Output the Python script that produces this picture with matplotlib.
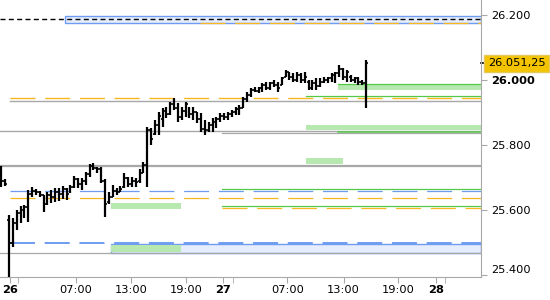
import numpy as np
import matplotlib
matplotlib.use("Agg")
import matplotlib.pyplot as plt
from matplotlib.patches import Rectangle
from matplotlib.transforms import blended_transform_factory

plt.rcParams['lines.scale_dashes'] = False
plt.rcParams['font.family'] = 'DejaVu Sans'

# OHLC bars (index positions, prices in points)
highs = [25735, 25695, 25585, 25576, 25600, 25612, 25615, 25662, 25671, 25665,
         25659, 25646, 25655, 25662, 25668, 25668, 25674, 25668, 25677, 25705,
         25699, 25699, 25717, 25742, 25745, 25732, 25732, 25695, 25655, 25677,
         25668, 25674, 25714, 25702, 25702, 25699, 25726, 25748, 25855, 25852,
         25877, 25902, 25914, 25917, 25932, 25945, 25929, 25917, 25932, 25917,
         25917, 25902, 25899, 25877, 25871, 25883, 25886, 25899, 25899, 25902,
         25908, 25917, 25923, 25948, 25963, 25975, 25978, 25978, 25991, 25994,
         25994, 26000, 25994, 26009, 26031, 26025, 26022, 26025, 26022, 26025,
         26000, 26000, 26006, 26006, 26009, 26009, 26022, 26025, 26046, 26037,
         26031, 26015, 26009, 26009, 26000, 26062]
lows = [25671, 25674, 25394, 25486, 25538, 25560, 25575, 25563, 25640, 25646,
        25640, 25594, 25615, 25622, 25625, 25628, 25634, 25631, 25652, 25668,
        25668, 25662, 25677, 25702, 25723, 25714, 25683, 25579, 25619, 25640,
        25646, 25655, 25668, 25671, 25671, 25671, 25683, 25714, 25671, 25800,
        25831, 25831, 25855, 25883, 25892, 25908, 25871, 25877, 25886, 25883,
        25877, 25868, 25840, 25831, 25840, 25840, 25852, 25871, 25877, 25877,
        25886, 25892, 25892, 25914, 25932, 25948, 25963, 25960, 25963, 25969,
        25969, 25978, 25963, 25985, 26009, 26000, 25994, 25994, 25991, 25991,
        25969, 25969, 25969, 25978, 25991, 25991, 25994, 25991, 26009, 26000,
        25994, 25994, 25991, 25985, 25985, 25914]
opens = [25720, 25690, 25570, 25500, 25560, 25590, 25600, 25610, 25650, 25660,
         25655, 25645, 25620, 25645, 25640, 25655, 25650, 25665, 25655, 25670,
         25695, 25680, 25690, 25710, 25735, 25730, 25725, 25690, 25625, 25640,
         25660, 25655, 25670, 25700, 25680, 25690, 25690, 25715, 25740, 25845,
         25835, 25860, 25880, 25905, 25895, 25925, 25915, 25885, 25905, 25915,
         25895, 25900, 25880, 25850, 25845, 25860, 25870, 25880, 25890, 25885,
         25895, 25900, 25910, 25915, 25940, 25955, 25970, 25965, 25975, 25985,
         25975, 25990, 25985, 25985, 26010, 26025, 26010, 26000, 26015, 26000,
         25995, 25975, 25990, 25980, 25995, 26000, 26005, 26015, 26020, 26035,
         26010, 26010, 26000, 26005, 25995, 25990]
closes = [25690, 25680, 25500, 25560, 25590, 25600, 25610, 25650, 25660, 25655,
          25645, 25610, 25645, 25640, 25655, 25650, 25665, 25650, 25670, 25695,
          25680, 25690, 25710, 25735, 25730, 25725, 25690, 25620, 25640, 25660,
          25655, 25665, 25700, 25680, 25690, 25685, 25715, 25740, 25845, 25820,
          25860, 25890, 25905, 25895, 25925, 25915, 25885, 25905, 25925, 25895,
          25900, 25880, 25850, 25845, 25860, 25870, 25880, 25890, 25885, 25895,
          25900, 25910, 25915, 25940, 25955, 25970, 25965, 25975, 25985, 25975,
          25990, 25985, 25975, 26005, 26025, 26010, 26000, 26015, 26000, 26010,
          25975, 25990, 25980, 25995, 26000, 26005, 26015, 26020, 26035, 26010,
          26025, 26000, 26005, 25995, 25990, 26051.25]
last_price = 26051.25

# x axis ticks (bar index units)
major_pos = [2.27, 19.4, 33.7, 48.1, 57.6, 74.5, 89.1, 103.4, 113.2]
major_lab = ['26', '07:00', '13:00', '19:00', '27', '07:00', '13:00', '19:00', '28']
minor_pos = [4.43, 60.2, 115.6]
y_ticks = [25400, 25600, 25800, 26000, 26200]

x_left, x_right = -0.34, 124.9
y_bottom, y_top = 25394, 26246

# zones: (start, end, low, high, face, edge)
zones = [
    (16.6, x_right, 26175, 26198, '#e6edfc', '#6f9cf0'),
    (28.6, x_right, 25469, 25495, '#e6edfc', '#6f9cf0'),
    (28.6, 46.8, 25472, 25492, '#b6e8b0', 'none'),
    (28.6, 46.8, 25603, 25622, '#b6e8b0', 'none'),
    (79.3, x_right, 25846, 25862, '#b6e8b0', 'none'),
    (87.7, x_right, 25969, 25988, '#b6e8b0', 'none'),
    (79.3, 89.0, 25742, 25760, '#b6e8b0', 'none'),
]
# lines: (start, price, color, dashes, width)
levels = [
    (x_left, 26188, 'black', (3.6, 2.4), 1.0),
    (51.7, 26175, '#f8b620', (18, 7), 0.9),
    (2.27, 25945, '#f8b620', (18, 7), 1.0),
    (2.27, 25935, '#a8a8a8', None, 1.0),
    (x_left, 25842, '#a8a8a8', None, 1.0),
    (57.5, 25837, '#a8a8a8', None, 0.9),
    (87.7, 25839, '#55c948', None, 1.1),
    (87.7, 25988, '#55c948', None, 0.9),
    (79.3, 25951, '#55c948', None, 0.9),
    (x_left, 25739, '#a8a8a8', None, 0.9),
    (x_left, 25734, '#a8a8a8', None, 0.9),
    (57.5, 25664, '#55c948', None, 0.9),
    (2.27, 25658, '#6f9cf0', (18, 7), 0.9),
    (2.27, 25636, '#f8b620', (18, 7), 0.9),
    (57.5, 25611, '#55c948', None, 0.9),
    (57.5, 25605, '#f8b620', (18, 7), 0.9),
    (2.27, 25498, '#6f9cf0', (18, 7), 1.4),
    (x_left, 25467, '#a8a8a8', None, 0.9),
]

fig = plt.figure(figsize=(5.5, 3), dpi=100)
ax = fig.add_axes([0, 1 - 277 / 300, 481 / 550, 277 / 300])

for x0, x1, lo, hi, fc, ec in zones:
    ax.add_patch(Rectangle((x0, lo), x1 - x0, hi - lo, facecolor=fc,
                           edgecolor=ec, lw=1.0, zorder=1))

for x0, p, c, d, w in levels:
    if d is None:
        ax.plot([x0, x_right], [p, p], color=c, lw=w, zorder=2)
    else:
        ax.plot([x0, x_right], [p, p], color=c, lw=w, dashes=d, zorder=2)

idx = np.arange(len(highs))
ax.vlines(idx, lows, highs, color='black', lw=1.6, zorder=3)
ax.hlines(opens, idx - 0.5, idx, color='black', lw=1.2, zorder=3)
ax.hlines(closes, idx, idx + 0.5, color='black', lw=1.2, zorder=3)

ax.set_xlim(x_left, x_right)
ax.set_ylim(y_bottom, y_top)

for s in ['top', 'left']:
    ax.spines[s].set_visible(False)
for s in ['right', 'bottom']:
    ax.spines[s].set_color('#a8a8a8')

ax.yaxis.tick_right()
ax.set_yticks(y_ticks)
ax.set_yticklabels(['{:,}'.format(v).replace(',', '.') for v in y_ticks])
ax.set_xticks(major_pos)
ax.set_xticklabels(major_lab)
ax.set_xticks(minor_pos, minor=True)
ax.tick_params(axis='both', which='both', colors='#a8a8a8', length=4,
               labelcolor='black', labelsize=8.2, pad=3)
ax.tick_params(axis='x', pad=2)

for lab in ax.get_xticklabels():
    if lab.get_text() in ('26', '27', '28'):
        lab.set_fontweight('bold')
for lab in ax.get_yticklabels():
    if lab.get_text() == '26.000':
        lab.set_fontweight('bold')
    if lab.get_text() == '25.400':
        lab.set_va('bottom')

# current price marker
tr = blended_transform_factory(ax.transAxes, ax.transData)
ax.plot([1.0, 1.01], [last_price, last_price], color='black', lw=1.2,
        transform=tr, clip_on=False)
txt = '{:,.2f}'.format(last_price).replace(',', 'X').replace('.', ',').replace('X', '.')
ax.text(1.014, last_price, txt, transform=tr, ha='left', va='center',
        fontsize=8.2, color='black',
        bbox=dict(boxstyle='square,pad=0.33', facecolor='#f5c400',
                  edgecolor='#e6c860', lw=1))

fig.savefig('out.png', dpi=100)
